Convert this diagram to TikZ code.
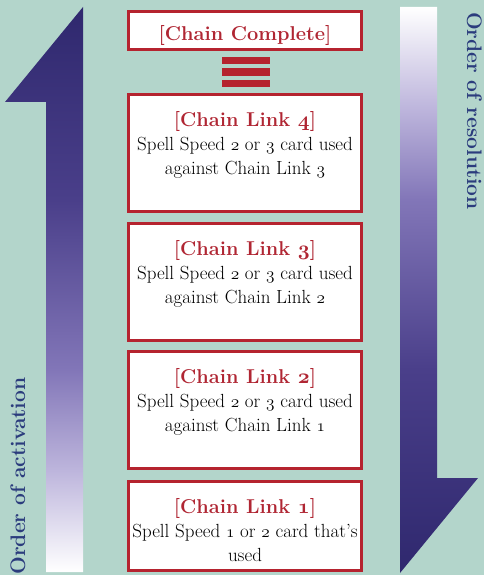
\documentclass[tikz,border=0pt]{standalone}
\usepackage{tikz}
\usetikzlibrary{positioning}

\definecolor{mint}{HTML}{B3D5CB}
\definecolor{linkred}{HTML}{B5232F}
\definecolor{headred}{HTML}{B02633}
\definecolor{sideblue}{HTML}{2B3C7D}
\definecolor{arrowdark}{HTML}{2F286E}
\definecolor{fadeA}{HTML}{BDB5DC}
\definecolor{fadeB}{HTML}{8276B8}
\definecolor{fadeC}{HTML}{4A3F8A}

\pgfdeclareverticalshading{upfade}{100bp}{color(0bp)=(white); color(25bp)=(white);
  color(34bp)=(fadeA); color(42.9bp)=(fadeB); color(57.9bp)=(fadeC);
  color(75bp)=(arrowdark); color(100bp)=(arrowdark)}
\pgfdeclareverticalshading{downfade}{100bp}{color(0bp)=(arrowdark); color(25bp)=(arrowdark);
  color(43bp)=(fadeC); color(58bp)=(fadeB); color(66bp)=(fadeA);
  color(75bp)=(white); color(100bp)=(white)}

% old style figures, upright weight and bold weight
\newcommand{\osn}[1]{{\usefont{OML}{cmm}{m}{it}#1}}
\newcommand{\osnb}[1]{{\usefont{OML}{cmm}{b}{it}#1}}
\newcommand{\linkhead}[1]{{\fontsize{20}{24}\selectfont\bfseries\color{headred}#1}}

\begin{document}
\begin{tikzpicture}[x=1pt, y=-1pt,
    chainbox/.style={draw=linkred, line width=2.5pt, fill=white, minimum width=233pt, inner sep=0pt},
    linktext/.style={align=center, inner sep=0pt, font=\fontsize{19}{24}\selectfont},
    sidetext/.style={text=sideblue, inner sep=0pt, font=\fontsize{21}{24}\selectfont\bfseries}]
  \useasboundingbox (0,0) rectangle (484,575);
  \fill[mint] (0,0) rectangle (484,575);

  % activation / resolution arrows
  \shade[shading=upfade] (83,7) -- (83,572) -- (46,572) -- (46,102) -- (5,102) -- cycle;
  \shade[shading=downfade] (400,7) -- (437,7) -- (437,478) -- (478,478) -- (400,573) -- cycle;
  \node[sidetext, rotate=90, anchor=base] (act) at (25,476) {Order of activation};
  \node[sidetext, rotate=-90, anchor=base] (res) at (467,111) {Order of resolution};

  % chain complete
  \node[chainbox, minimum height=38pt] (done) at (245,30.5) {};
  \node[anchor=base, inner sep=0pt] (donetxt) at (245,41) {\linkhead{[Chain Complete]}};
  \foreach \y in {57,68.5,80}
    \fill[linkred] (222,\y) rectangle (270,\y+7.5);

  % chain links
  \node[chainbox, minimum height=117pt] (l4) at (245,153) {};
  \node[linktext, below=18pt of l4.north] (l4txt)
    {\linkhead{[Chain Link \osnb{4}]}\\ Spell Speed \osn{2} or \osn{3} card used\\ against Chain Link \osn{3}};

  \node[chainbox, minimum height=117pt] (l3) at (245,282) {};
  \node[linktext, below=18pt of l3.north] (l3txt)
    {\linkhead{[Chain Link \osnb{3}]}\\ Spell Speed \osn{2} or \osn{3} card used\\ against Chain Link \osn{2}};

  \node[chainbox, minimum height=117pt] (l2) at (245,410) {};
  \node[linktext, below=18pt of l2.north] (l2txt)
    {\linkhead{[Chain Link \osnb{2}]}\\ Spell Speed \osn{2} or \osn{3} card used\\ against Chain Link \osn{1}};

  \node[chainbox, minimum height=89pt] (l1) at (245,526) {};
  \node[linktext, below=18pt of l1.north] (l1txt)
    {\linkhead{[Chain Link \osnb{1}]}\\ Spell Speed \osn{1} or \osn{2} card that's\\ used};
\end{tikzpicture}
\end{document}
